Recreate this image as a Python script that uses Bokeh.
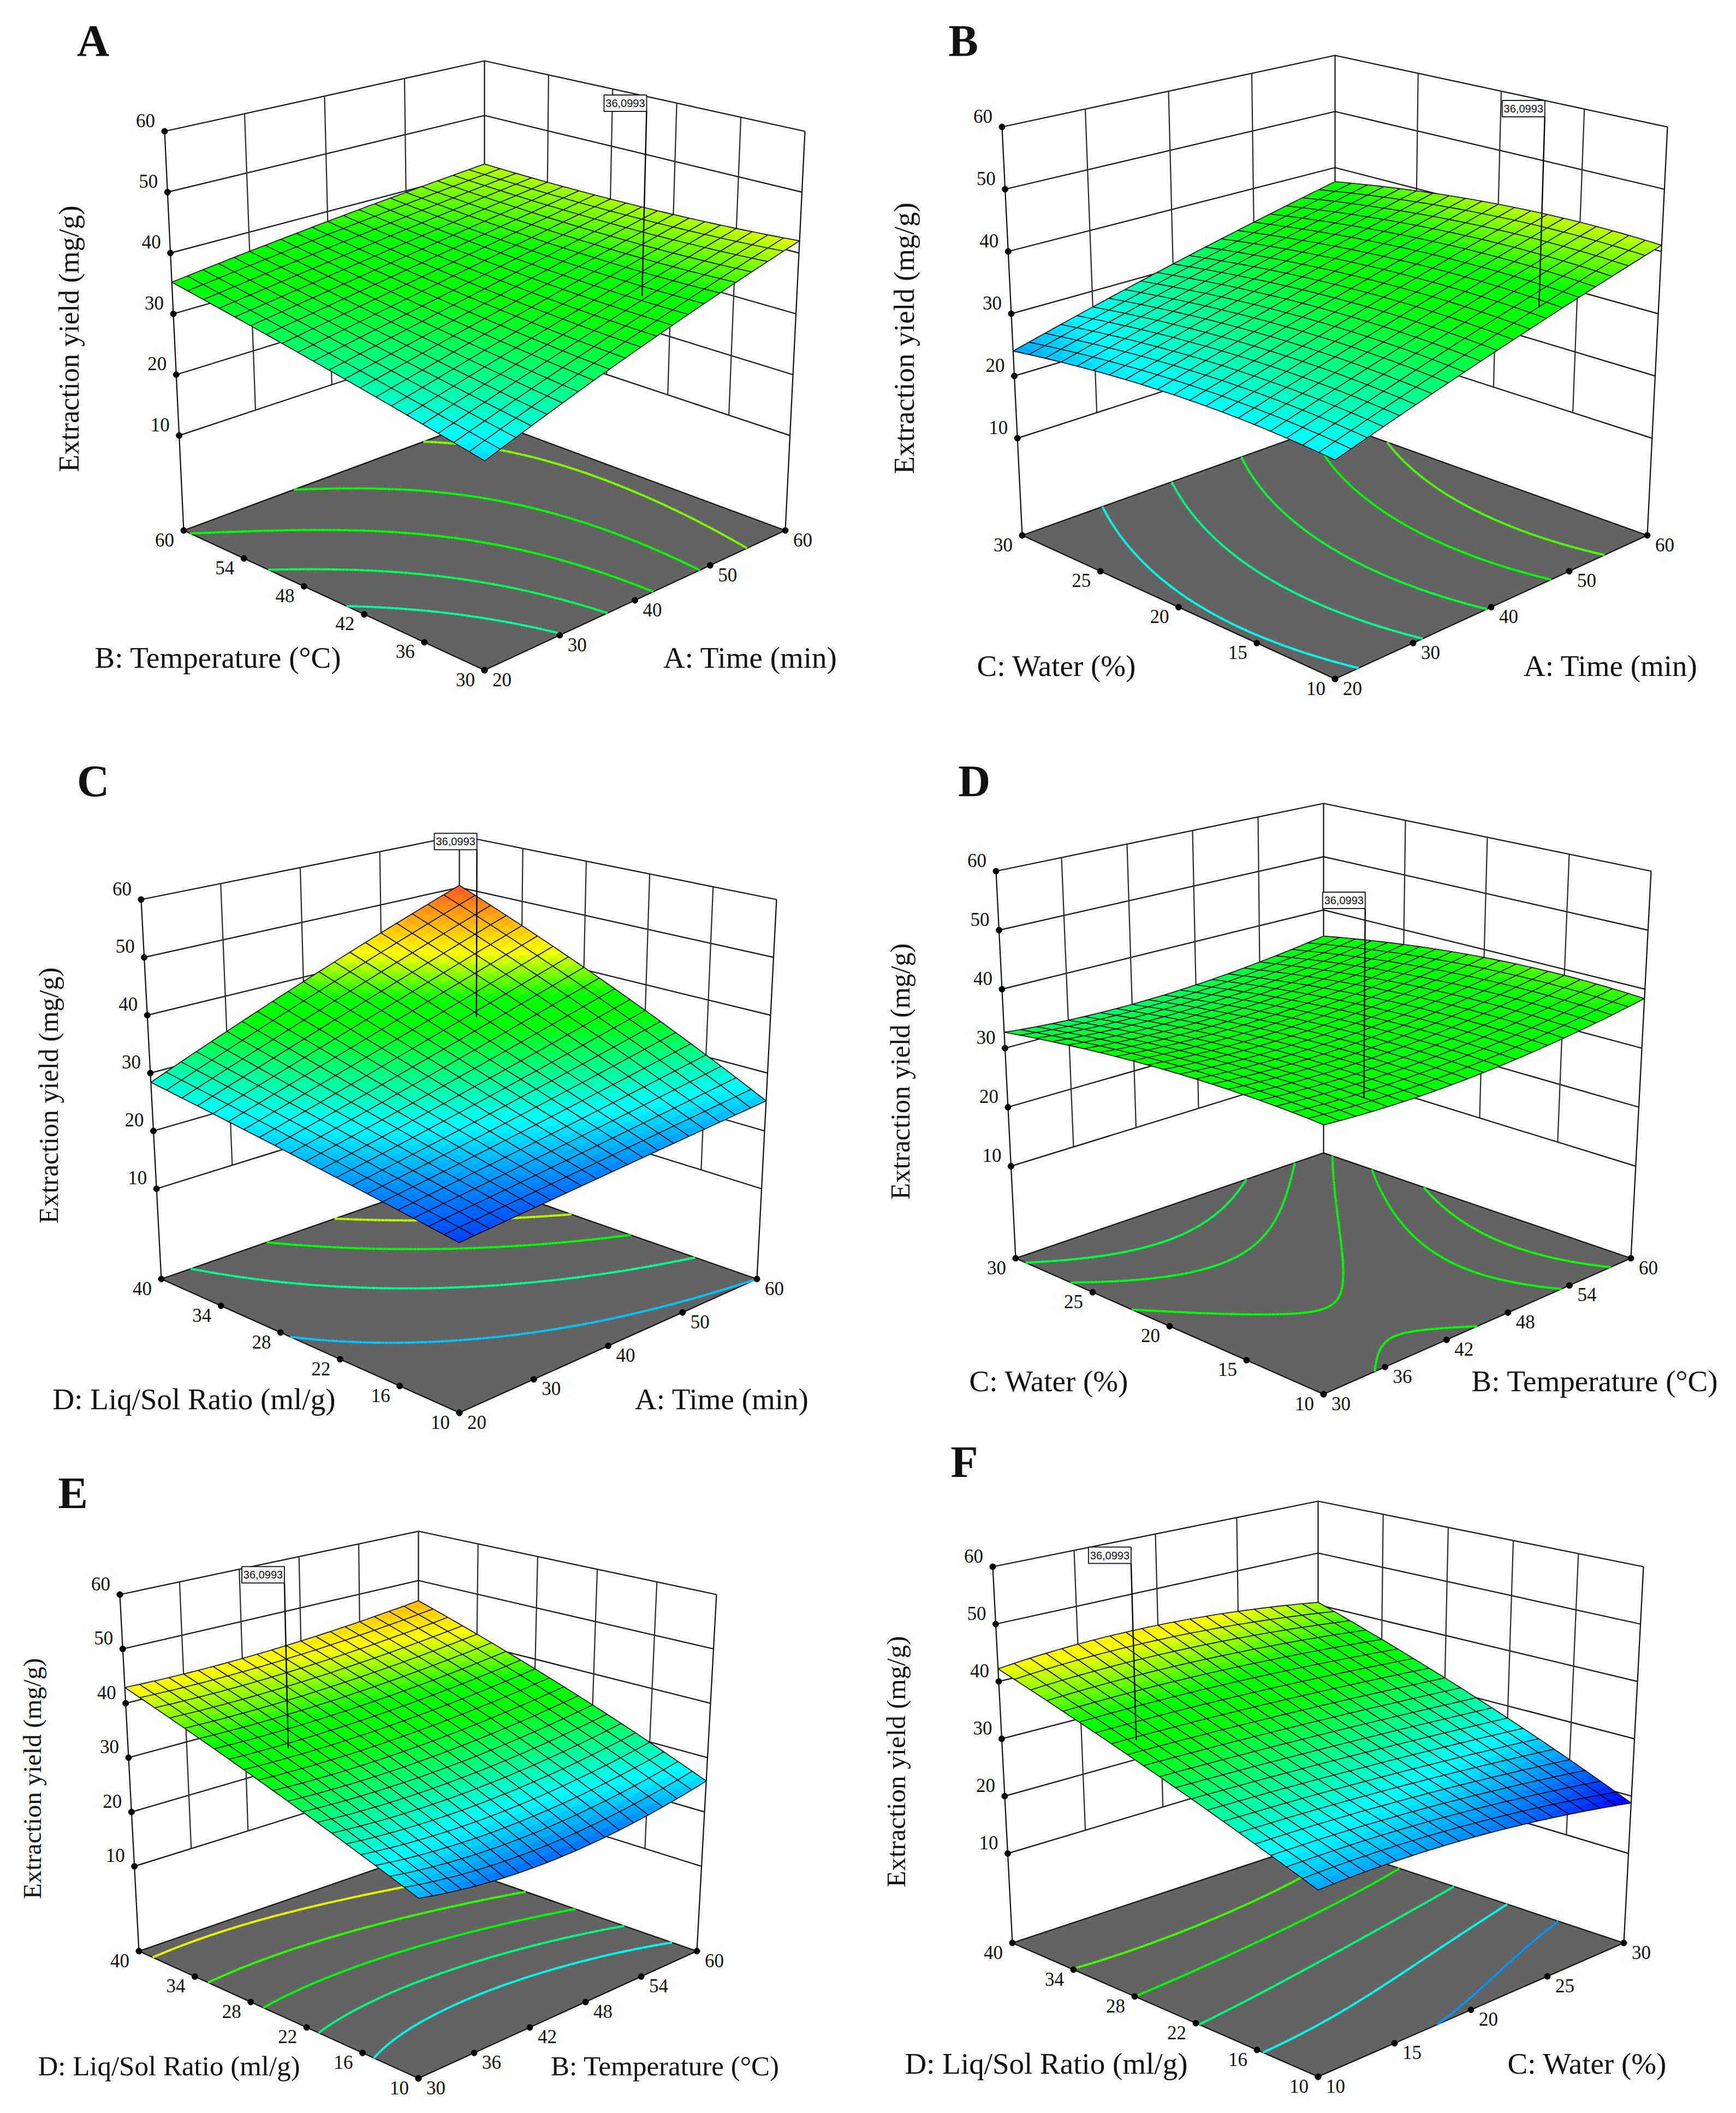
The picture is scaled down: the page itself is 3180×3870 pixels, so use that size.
import numpy as np
from bokeh.plotting import figure
from bokeh.models import Range1d
from bokeh.core.properties import value
from bokeh.embed import file_html
from bokeh.resources import INLINE

# ---------- chart values ----------
YIELD_TICKS = [10, 20, 30, 40, 50, 60]
YIELD_FLOOR = -5.6
YIELD_TOP = 60
Y_LABEL = "Extraction yield (mg/g)"
DESIGN_VALUE = "36,0993"
DESIGN_YIELD = 36.0993
STEM_TOP_YIELD = 66

TIME_TICKS = [20, 30, 40, 50, 60]
TEMP_TICKS = [30, 36, 42, 48, 54, 60]
WATER_TICKS = [10, 15, 20, 25, 30]
RATIO_TICKS = [10, 16, 22, 28, 34, 40]

TIME_LABEL = "A: Time (min)"
TEMP_LABEL = "B: Temperature (°C)"
WATER_LABEL = "C: Water (%)"
RATIO_LABEL = "D: Liq/Sol Ratio (ml/g)"

DESIGN_TIME = 47.3
DESIGN_TEMP = 35.4
DESIGN_WATER = 11.1
DESIGN_RATIO = 28.8

# yield at low / centre / high of each factor: rows = left-hand factor, columns = right-hand factor
YIELD_A = [[25.6, 34.0, 42.0], [30.4, 35.3, 40.8], [35.2, 38.3, 41.1]]
YIELD_B = [[26.4, 33.7, 41.0], [26.9, 33.8, 40.9], [24.0, 30.8, 37.5]]
YIELD_C = [[21.0, 23.0, 25.2], [24.7, 30.6, 37.9], [28.4, 39.2, 50.4]]
YIELD_D = [[36.0, 35.4, 38.4], [35.9, 35.2, 38.6], [32.7, 31.9, 35.1]]
YIELD_E = [[24.7, 22.2, 25.7], [33.8, 33.5, 36.1], [42.9, 43.2, 45.9]]
YIELD_F = [[24.1, 23.2, 18.8], [33.2, 32.0, 30.0], [42.2, 43.3, 40.5]]

LEVELS_A = [30, 32.5, 35, 37.5, 40]
LEVELS_B = [27.5, 30.5, 33.5, 36.5, 39]
LEVELS_C = [25.2, 30.5, 36, 41, 46.5]
LEVELS_D = [33, 34.2, 35.4, 36.6, 37.8]
LEVELS_E = [27.6, 31.2, 34.8, 38.4, 42]
LEVELS_F = [23.7, 27.4, 31.2, 35, 38.7]

# colour scale of the surfaces
COLOR_YIELDS = [19, 27, 35, 37.5, 42.5, 52]
COLOR_RGB = [(0, 0, 255), (0, 255, 255), (0, 255, 0), (0, 255, 0), (255, 255, 0), (255, 50, 40)]

# ---------- layout of the six 3D boxes (pixel frame of the page) ----------
PANELS = [
    dict(letter="A", letter_at=(170, 74), z=YIELD_A, levels=LEVELS_A,
         u=(TIME_TICKS, DESIGN_TIME, TIME_LABEL, (1374, 1204), 55),
         v=(TEMP_TICKS, DESIGN_TEMP, TEMP_LABEL, (399, 1204), 55),
         ylab=((126, 620), 52),
         F0=(887, 1227), R0=(1438, 971), L0=(336, 971), B0=(887, 767),
         L1=(301, 240), R1=(1474, 240), B1=(887, 111)),
    dict(letter="B", letter_at=(1764, 74), z=YIELD_B, levels=LEVELS_B,
         u=(TIME_TICKS, DESIGN_TIME, TIME_LABEL, (2950, 1219), 55),
         v=(WATER_TICKS, DESIGN_WATER, WATER_LABEL, (1935, 1219), 55),
         ylab=((1655, 619), 53),
         F0=(2445, 1243), R0=(3017, 980), L0=(1872, 980), B0=(2445, 775),
         L1=(1835, 232), R1=(3054, 232), B1=(2445, 101)),
    dict(letter="C", letter_at=(170, 1430), z=YIELD_C, levels=LEVELS_C,
         u=(TIME_TICKS, DESIGN_TIME, TIME_LABEL, (1322, 2562), 55),
         v=(RATIO_TICKS, DESIGN_RATIO, RATIO_LABEL, (355, 2562), 55),
         ylab=((88, 2006), 50),
         F0=(841, 2587), R0=(1386, 2342), L0=(295, 2342), B0=(841, 2152),
         L1=(258, 1647), R1=(1422, 1647), B1=(841, 1530)),
    dict(letter="D", letter_at=(1784, 1430), z=YIELD_D, levels=LEVELS_D,
         u=(TEMP_TICKS, DESIGN_TEMP, TEMP_LABEL, (2921, 2529), 55),
         v=(WATER_TICKS, DESIGN_WATER, WATER_LABEL, (1921, 2529), 55),
         ylab=((1648, 1962), 50),
         F0=(2424, 2553), R0=(2987, 2304), L0=(1860, 2304), B0=(2424, 2111),
         L1=(1824, 1595), R1=(3024, 1595), B1=(2424, 1471)),
    dict(letter="E", letter_at=(133, 2734), z=YIELD_E, levels=LEVELS_E,
         u=(TEMP_TICKS, DESIGN_TEMP, TEMP_LABEL, (1218, 3783), 51),
         v=(RATIO_TICKS, DESIGN_RATIO, RATIO_LABEL, (309, 3783), 51),
         ylab=((58, 3257), 47),
         F0=(766, 3806), R0=(1276, 3573), L0=(254, 3573), B0=(766, 3396),
         L1=(219, 2920), R1=(1312, 2920), B1=(766, 2804)),
    dict(letter="F", letter_at=(1766, 2677), z=YIELD_F, levels=LEVELS_F,
         u=(WATER_TICKS, DESIGN_WATER, WATER_LABEL, (2907, 3779), 55),
         v=(RATIO_TICKS, DESIGN_RATIO, RATIO_LABEL, (1916, 3779), 55),
         ylab=((1641, 3226), 49),
         F0=(2414, 3803), R0=(2974, 3558), L0=(1854, 3558), B0=(2414, 3372),
         L1=(1818, 2869), R1=(3010, 2869), B1=(2414, 2749)),
]

CELLS = 20
SUB = 2
SERIF = value("Liberation Serif")
SANS = value("Liberation Sans")

p = figure(width=3164, height=3854, x_range=Range1d(0, 3164), y_range=Range1d(3854, 0),
           x_axis_type=None, y_axis_type=None, toolbar_location=None, output_backend="svg",
           min_border=0, outline_line_color=None, background_fill_color="white",
           border_fill_color="white")


def rgb_of(z):
    r = np.interp(z, COLOR_YIELDS, [c[0] for c in COLOR_RGB])
    g = np.interp(z, COLOR_YIELDS, [c[1] for c in COLOR_RGB])
    b = np.interp(z, COLOR_YIELDS, [c[2] for c in COLOR_RGB])
    return "#%02x%02x%02x" % (int(r), int(g), int(b))


def basis(t):
    t = np.asarray(t, dtype=float)
    return [2 * (t - .5) * (t - 1), -4 * t * (t - 1), 2 * t * (t - .5)]


def surface(grid, u, v):
    bu, bv = basis(u), basis(v)
    return sum(grid[i][j] * bv[i] * bu[j] for i in range(3) for j in range(3))


def make_projection(P):
    F0, R0, L0, B0 = [np.array(P[k], float) for k in ("F0", "R0", "L0", "B0")]
    VL = np.array(P["L1"], float) - L0
    VR = np.array(P["R1"], float) - R0
    VB = np.array(P["B1"], float) - B0
    VF = VL + VR - VB

    def proj(u, v, z):
        u = np.asarray(u, float)
        v = np.asarray(v, float)
        w = (np.asarray(z, float) - YIELD_FLOOR) / (YIELD_TOP - YIELD_FLOOR)
        a, b, c, d = (1 - u) * (1 - v), u * (1 - v), (1 - u) * v, u * v
        x = a * F0[0] + b * R0[0] + c * L0[0] + d * B0[0] + w * (a * VF[0] + b * VR[0] + c * VL[0] + d * VB[0])
        y = a * F0[1] + b * R0[1] + c * L0[1] + d * B0[1] + w * (a * VF[1] + b * VR[1] + c * VL[1] + d * VB[1])
        return x, y
    return proj


def contour_segments(grid, level, n=160):
    t = np.linspace(0, 1, n + 1)
    U, V = np.meshgrid(t, t)
    Z = surface(grid, U, V) - level
    segs = []
    for i in range(n):
        for j in range(n):
            c = [(U[i, j], V[i, j], Z[i, j]), (U[i, j + 1], V[i, j + 1], Z[i, j + 1]),
                 (U[i + 1, j + 1], V[i + 1, j + 1], Z[i + 1, j + 1]), (U[i + 1, j], V[i + 1, j], Z[i + 1, j])]
            pts = []
            for k in range(4):
                a, b = c[k], c[(k + 1) % 4]
                if (a[2] < 0) != (b[2] < 0):
                    s = a[2] / (a[2] - b[2])
                    pts.append((a[0] + s * (b[0] - a[0]), a[1] + s * (b[1] - a[1])))
            if len(pts) == 2:
                segs.append(pts)
            elif len(pts) == 4:
                segs.append(pts[:2])
                segs.append(pts[2:])
    return segs


def draw_text(xs, ys, texts, size, font=SERIF, angle=0.0, style="normal"):
    p.text(x=xs, y=ys, text=texts, text_font=font, text_font_size=value(f"{size}px"),
           text_align="center", text_baseline="middle", angle=angle, text_color="#111111",
           text_font_style=style)


def panel(P):
    proj = make_projection(P)
    uticks, ud, ulabel, ulabel_at, usize = P["u"]
    vticks, vd, vlabel, vlabel_at, vsize = P["v"]
    unorm = lambda a: (np.asarray(a, float) - uticks[0]) / (uticks[-1] - uticks[0])
    vnorm = lambda a: (np.asarray(a, float) - vticks[0]) / (vticks[-1] - vticks[0])
    grid = P["z"]

    # walls
    wx, wy = [], []
    for z in YIELD_TICKS:
        x, y = proj([0, 1, 1], [1, 1, 0], [z, z, z])
        wx.append(list(x)); wy.append(list(y))
    for uu, vv in [(0, 1), (1, 1), (1, 0)]:
        x, y = proj([uu, uu], [vv, vv], [YIELD_FLOOR, YIELD_TOP])
        wx.append(list(x)); wy.append(list(y))
    p.multi_line(wx, wy, line_color="#111111", line_width=2.2)
    gx, gy = [], []
    for t in unorm(uticks)[1:-1]:
        x, y = proj([t, t], [1, 1], [YIELD_TICKS[0], YIELD_TOP])
        gx.append(list(x)); gy.append(list(y))
    for t in vnorm(vticks)[1:-1]:
        x, y = proj([1, 1], [t, t], [YIELD_TICKS[0], YIELD_TOP])
        gx.append(list(x)); gy.append(list(y))
    p.multi_line(gx, gy, line_color="#2a2a2a", line_width=2.2)

    # floor
    fx, fy = proj([0, 1, 1, 0], [0, 0, 1, 1], [YIELD_FLOOR] * 4)
    p.patch(list(fx), list(fy), fill_color="#636363", line_color="#111111", line_width=2.2)

    # contours on the floor
    for level in P["levels"]:
        segs = contour_segments(grid, level)
        if not segs:
            continue
        su = np.array([[s[0][0], s[1][0]] for s in segs])
        sv = np.array([[s[0][1], s[1][1]] for s in segs])
        x, y = proj(su, sv, np.full(su.shape, YIELD_FLOOR))
        p.multi_line(x.tolist(), y.tolist(), line_color=rgb_of(level), line_width=4)

    # surface cells
    n = CELLS * SUB
    t = np.linspace(0, 1, n + 1)
    U, V = np.meshgrid(t, t)
    Z = surface(grid, U, V)
    X, Y = proj(U, V, Z)
    xs, ys, cols = [], [], []
    for i in range(n):
        for j in range(n):
            xs.append([X[i, j], X[i, j + 1], X[i + 1, j + 1], X[i + 1, j]])
            ys.append([Y[i, j], Y[i, j + 1], Y[i + 1, j + 1], Y[i + 1, j]])
            cols.append(rgb_of(Z[i:i + 2, j:j + 2].mean()))
    p.patches(xs, ys, fill_color=cols, line_color=cols, line_width=1)

    # mesh lines
    mx, my = [], []
    for k in range(CELLS + 1):
        i = k * SUB
        mx.append(X[i, :].tolist()); my.append(Y[i, :].tolist())
        mx.append(X[:, i].tolist()); my.append(Y[:, i].tolist())
    p.multi_line(mx, my, line_color="#000000", line_width=1.6)

    # tick dots and labels
    zx, zy = proj(np.zeros(6), np.ones(6), YIELD_TICKS)
    ux, uy = proj(unorm(uticks), np.zeros(len(uticks)), [YIELD_FLOOR] * len(uticks))
    vx, vy = proj(np.zeros(len(vticks)), vnorm(vticks), [YIELD_FLOOR] * len(vticks))
    p.scatter(np.r_[zx, ux, vx], np.r_[zy, uy, vy], size=11, color="black")
    draw_text(zx - 35, zy - 20, [str(a) for a in YIELD_TICKS], 35)
    draw_text(ux + 32, uy + 17, [str(a) for a in uticks], 35)
    draw_text(vx - 35, vy + 17, [str(a) for a in vticks], 35)

    # axis titles
    draw_text([P["ylab"][0][0]], [P["ylab"][0][1]], [Y_LABEL], P["ylab"][1], angle=np.pi / 2)
    draw_text([ulabel_at[0]], [ulabel_at[1]], [ulabel], usize)
    draw_text([vlabel_at[0]], [vlabel_at[1]], [vlabel], vsize)

    # design point stem and value box
    uu, vv = float(unorm(ud)), float(vnorm(vd))
    sx, sy = proj([uu, uu], [vv, vv], [DESIGN_YIELD, STEM_TOP_YIELD])
    p.line(sx, sy, line_color="black", line_width=2.4)
    bx, by = sx[1] - 39, sy[1] - 15
    p.rect([bx], [by], width=78, height=30, fill_color="white", line_color="#222222", line_width=2)
    draw_text([bx], [by], [DESIGN_VALUE], 20, font=SANS)

    # letter
    draw_text([P["letter_at"][0]], [P["letter_at"][1]], [P["letter"]], 82, style="bold")


for P in PANELS:
    panel(P)

open("out.html", "w").write(file_html(p, INLINE))
